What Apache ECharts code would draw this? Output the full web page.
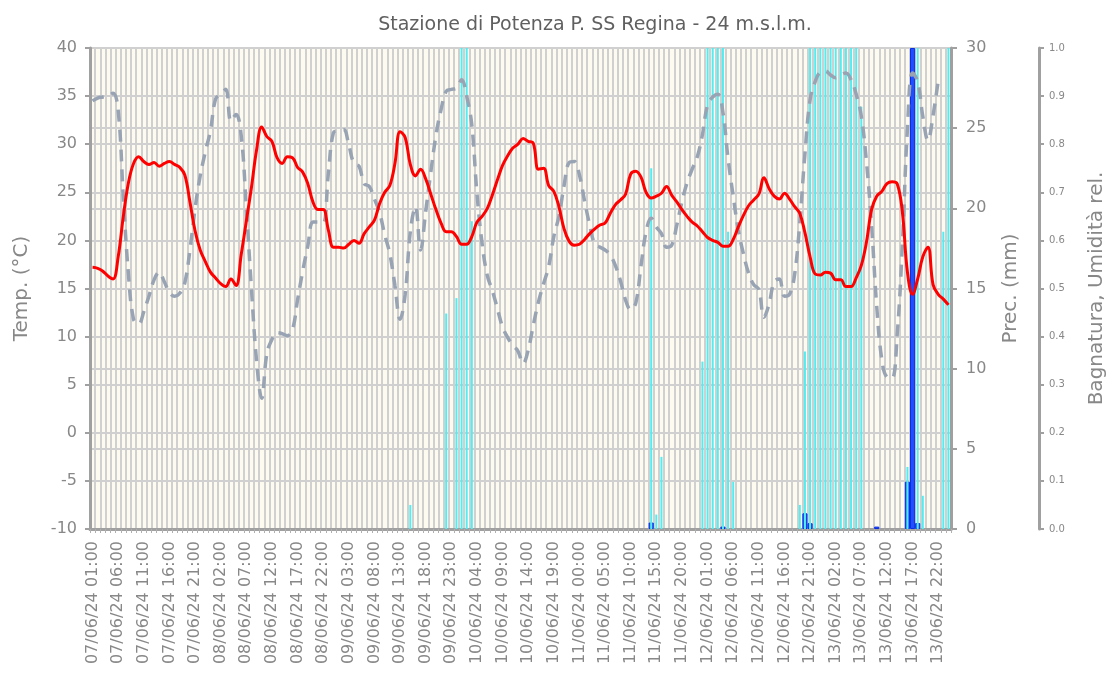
<!DOCTYPE html>
<html><head><meta charset="utf-8">
<script src="https://cdn.jsdelivr.net/npm/echarts@6/dist/echarts.min.js"></script>
<style>html,body{margin:0;padding:0;background:#fff}#c{width:1108px;height:682px}</style>
</head><body><div id="c"></div>
<script>
const chartTitle = 'Stazione di Potenza P. SS Regina - 24 m.s.l.m.';
// hourly categories: 07/06/24 01:00 ... 14/06/24 00:00
const categories = [];
for (let i = 0; i < 168; i++) {
  const h = 1 + i, d = 7 + Math.floor(h / 24), hh = h % 24;
  categories.push(String(d).padStart(2, '0') + '/06/24 ' + String(hh).padStart(2, '0') + ':00');
}
// Temperature (°C)
const temperature = [
 17.2,17.1,16.8,16.3,16.0,18.3,22.5,26.0,28.0,28.7,
 28.2,27.9,28.1,27.7,28.0,28.2,27.9,27.6,26.8,24.0,
 21.0,19.0,17.8,16.7,16.1,15.5,15.2,16.0,15.3,18.5,
 22.0,25.5,29.4,31.8,30.8,30.3,28.6,28.0,28.7,28.6,
 27.6,27.1,25.9,24.0,23.2,23.2,21.1,19.3,19.3,19.2,
 19.6,20.0,19.7,20.7,21.4,22.1,23.8,25.0,25.7,28.0,
 31.3,30.7,27.9,26.7,27.4,26.4,24.8,23.2,21.8,20.9,
 20.9,20.4,19.6,19.6,20.4,21.9,22.5,23.3,24.7,26.3,
 27.8,28.8,29.6,30.0,30.6,30.3,30.1,27.4,27.5,25.7,
 25.1,23.5,21.2,19.9,19.5,19.6,20.1,20.7,21.2,21.6,
 21.8,22.8,23.7,24.2,24.8,26.9,27.2,26.6,25.0,24.4,
 24.6,24.9,25.6,24.7,24.0,23.2,22.5,21.9,21.5,20.9,
 20.3,20.0,19.8,19.4,19.4,20.1,21.4,22.6,23.6,24.2,
 24.8,26.5,25.4,24.6,24.3,24.9,24.3,23.5,22.8,20.8,
 18.3,16.5,16.4,16.7,16.6,15.9,15.9,15.2,15.2,16.1,
 17.4,19.8,23.2,24.6,25.1,25.9,26.1,25.9,23.0,16.7,
 14.4,16.0,18.3,19.3,15.4,14.4,13.9,13.3
];
// Relative humidity (0-1)
const humidity = [
 0.89,0.896,0.898,0.90,0.906,0.87,0.69,0.53,0.436,0.426,
 0.452,0.484,0.518,0.534,0.514,0.492,0.484,0.49,0.512,0.58,
 0.666,0.734,0.784,0.828,0.894,0.904,0.914,0.848,0.862,0.818,
 0.668,0.50,0.35,0.272,0.364,0.394,0.408,0.406,0.402,0.414,
 0.476,0.536,0.588,0.638,0.638,0.636,0.738,0.824,0.828,0.83,
 0.798,0.76,0.754,0.718,0.712,0.686,0.658,0.612,0.572,0.506,
 0.436,0.488,0.618,0.67,0.58,0.66,0.742,0.818,0.872,0.91,
 0.914,0.916,0.934,0.90,0.84,0.698,0.594,0.528,0.496,0.458,
 0.42,0.398,0.382,0.37,0.344,0.372,0.424,0.472,0.51,0.546,
 0.608,0.65,0.714,0.762,0.764,0.736,0.682,0.632,0.592,0.586,
 0.58,0.57,0.548,0.516,0.476,0.456,0.47,0.546,0.618,0.646,
 0.628,0.614,0.586,0.59,0.632,0.68,0.72,0.748,0.774,0.82,
 0.882,0.898,0.904,0.866,0.77,0.692,0.622,0.572,0.532,0.508,
 0.498,0.44,0.468,0.514,0.52,0.484,0.488,0.53,0.638,0.78,
 0.892,0.93,0.95,0.952,0.944,0.938,0.944,0.948,0.934,0.904,
 0.858,0.764,0.632,0.464,0.352,0.316,0.314,0.404,0.588,0.832,
 0.948,0.93,0.858,0.808,0.86,0.932,null,null
];
// Leaf wetness (0-1)
const wetness = [
 0,0,0,0,0,0,0,0,0,0, 0,0,0,0,0,0,0,0,0,0,
 0,0,0,0,0,0,0,0,0,0, 0,0,0,0,0,0,0,0,0,0,
 0,0,0,0,0,0,0,0,0,0, 0,0,0,0,0,0,0,0,0,0,
 0,0,0.05,0,0,0,0,0,0,0.448, 0,0.48,1,1,0.64,0,0,0,0,0,
 0,0,0,0,0,0,0,0,0,0, 0,0,0,0,0,0,0,0,0,0,
 0,0,0,0,0,0,0,0,0,0.75, 0.03,0.15,0,0,0,0,0,0,0,0.348,
 1,1,1,1,0.618,0.098,0,0,0,0, 0,0,0,0,0,0,0,0,0.05,0.369,
 1,1,1,1,1,1,1,1,1,1, 0.878,0,0,0,0,0,0,0,0,0.129,
 0,1,0.069,0,0,0,0.618,1
];
// Precipitation (mm)
const precipitation = [
 0,0,0,0,0,0,0,0,0,0, 0,0,0,0,0,0,0,0,0,0,
 0,0,0,0,0,0,0,0,0,0, 0,0,0,0,0,0,0,0,0,0,
 0,0,0,0,0,0,0,0,0,0, 0,0,0,0,0,0,0,0,0,0,
 0,0,0,0,0,0,0,0,0,0, 0,0,0,0,0,0,0,0,0,0,
 0,0,0,0,0,0,0,0,0,0, 0,0,0,0,0,0,0,0,0,0,
 0,0,0,0,0,0,0,0,0,0.4, 0,0,0,0,0,0,0,0,0,0,
 0,0,0,0.15,0,0,0,0,0,0, 0,0,0,0,0,0,0,0,0,0.98,
 0.36,0,0,0,0,0,0,0,0,0, 0,0,0,0.15,0,0,0,0,0,2.95,
 30,0.37,0,0,0,0,0,0
];
const tempTicks = { min: -10, max: 40, interval: 5 };
const precTicks = { min: 0, max: 30, interval: 5 };
const humTicks = { min: 0, max: 1, interval: 0.1 };

const FONT = 'DejaVu Sans';
const GRID = '#d0d0d0';
const AX = '#a0a0a0';
const LBL = '#888';
const nz = a => a.map(v => (v === 0 ? '-' : v));

const chart = echarts.init(document.getElementById('c'), null, { renderer: 'canvas' });
chart.setOption({
  animation: false,
  backgroundColor: '#fff',
  textStyle: { fontFamily: FONT },
  title: {
    text: chartTitle, left: 590, top: 11, textAlign: 'center',
    textStyle: { fontFamily: FONT, fontSize: 19, fontWeight: 'normal', color: '#606060' }
  },
  grid: {
    left: 90, right: 157, top: 48, bottom: 153,
    containLabel: false, outerBoundsMode: 'none',
    show: true, backgroundColor: '#fdfbf0', borderColor: '#aaa', borderWidth: 2
  },
  xAxis: [{
    type: 'category', data: categories, boundaryGap: true,
    axisLine: { onZero: false, lineStyle: { color: AX, width: 3 } },
    axisTick: { show: true, interval: 0, length: 4, lineStyle: { color: '#b0b0b0', width: 1 } },
    axisLabel: { interval: 4, rotate: 90, margin: 12, color: LBL, fontSize: 16, fontFamily: FONT },
    splitLine: { show: true, interval: 0, lineStyle: { color: GRID, width: 2 } }
  }, {
    type: 'category', data: categories, boundaryGap: true, show: false,
    axisLine: { onZero: false }
  }],
  yAxis: [{
    type: 'value', position: 'left', ...tempTicks,
    name: 'Temp. (°C)', nameLocation: 'middle', nameGap: 58, nameRotate: 90,
    nameTextStyle: { color: LBL, fontSize: 20, fontFamily: FONT },
    axisLine: { show: true, onZero: false, lineStyle: { color: AX, width: 3 } },
    axisTick: { show: true, length: 5, lineStyle: { color: AX, width: 2 } },
    axisLabel: { color: LBL, fontSize: 16, margin: 13, fontFamily: FONT },
    splitLine: { show: true, lineStyle: { color: GRID, width: 2 } }
  }, {
    type: 'value', position: 'right', ...precTicks,
    name: 'Prec. (mm)', nameLocation: 'middle', nameGap: 50, nameRotate: 90,
    nameTextStyle: { color: LBL, fontSize: 20, fontFamily: FONT },
    axisLine: { show: true, onZero: false, lineStyle: { color: AX, width: 3 } },
    axisTick: { show: true, length: 6, lineStyle: { color: AX, width: 2 } },
    axisLabel: { color: LBL, fontSize: 16, margin: 15, fontFamily: FONT },
    splitLine: { show: true, lineStyle: { color: GRID, width: 2 } }
  }, {
    type: 'value', position: 'right', offset: 88, ...humTicks,
    name: 'Bagnatura, Umidità rel.', nameLocation: 'middle', nameGap: 48, nameRotate: 90,
    nameTextStyle: { color: LBL, fontSize: 20, fontFamily: FONT },
    axisLine: { show: true, onZero: false, lineStyle: { color: AX, width: 3 } },
    axisTick: { show: true, length: 5, lineStyle: { color: AX, width: 2 } },
    axisLabel: { color: LBL, fontSize: 10, margin: 10, fontFamily: FONT, formatter: v => v.toFixed(1) },
    splitLine: { show: false }
  }],
  series: [{
    name: 'Prec.', type: 'bar', xAxisIndex: 0, yAxisIndex: 1, data: nz(precipitation),
    barCategoryGap: '0%', z: 2,
    itemStyle: { color: '#1f4fff', borderColor: '#0a2ee6', borderWidth: 1 }
  }, {
    name: 'Bagnatura', type: 'bar', xAxisIndex: 1, yAxisIndex: 2, data: nz(wetness),
    barWidth: 2, z: 3, itemStyle: { color: '#50eef2' }
  }, {
    name: 'Umidità rel.', type: 'line', xAxisIndex: 0, yAxisIndex: 2, data: humidity,
    showSymbol: false, smooth: 0.4, z: 4,
    lineStyle: { color: '#98a3b3', width: 3.5, type: [12, 8] }
  }, {
    name: 'Temp.', type: 'line', xAxisIndex: 0, yAxisIndex: 0, data: temperature,
    showSymbol: false, smooth: 0.4, z: 5,
    lineStyle: { color: '#ff0000', width: 3 }
  }]
});
</script></body></html>
